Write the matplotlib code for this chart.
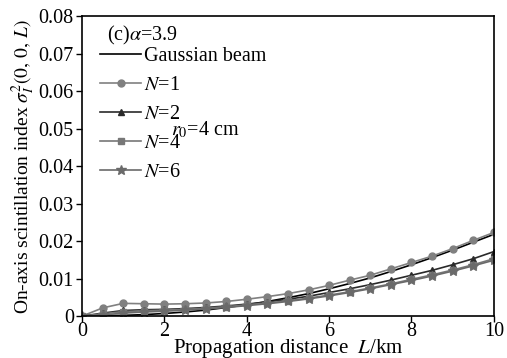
import numpy as np
import matplotlib.pyplot as plt

plt.rcParams['font.family'] = ['Liberation Serif', 'DejaVu Serif']
plt.rcParams['mathtext.fontset'] = 'stix'

L = np.arange(0, 10.01, 0.5)

gauss = [0, 0.0001, 0.0002, 0.0004, 0.0007, 0.0011, 0.0016, 0.0023, 0.0030, 0.0039, 0.0049,
         0.0060, 0.0073, 0.0087, 0.0102, 0.0119, 0.0137, 0.0156, 0.0176, 0.0197, 0.0218]
n1 = [0, 0.0022, 0.0034, 0.0033, 0.0032, 0.0033, 0.0035, 0.0039, 0.0045, 0.0052, 0.0060,
      0.0070, 0.0082, 0.0096, 0.0109, 0.0126, 0.0143, 0.0160, 0.0180, 0.0202, 0.0223]
n2 = [0, 0.0008, 0.0015, 0.0017, 0.0018, 0.0020, 0.0023, 0.0027, 0.0032, 0.0038, 0.0045,
      0.0053, 0.0063, 0.0073, 0.0084, 0.0096, 0.0109, 0.0122, 0.0137, 0.0153, 0.0172]
n4 = [0, 0.0006, 0.0012, 0.0014, 0.0016, 0.0018, 0.0021, 0.0025, 0.0030, 0.0035, 0.0041,
      0.0048, 0.0056, 0.0065, 0.0075, 0.0086, 0.0098, 0.0110, 0.0123, 0.0137, 0.0153]
n6 = [0, 0.0003, 0.0008, 0.0011, 0.0013, 0.0016, 0.0019, 0.0023, 0.0028, 0.0033, 0.0039,
      0.0046, 0.0054, 0.0063, 0.0073, 0.0084, 0.0095, 0.0107, 0.0120, 0.0134, 0.0149]

fig = plt.figure(figsize=(5.07, 3.58), dpi=100)
ax = fig.add_axes([0.162, 0.117, 0.812, 0.838])

ax.plot(L, gauss, color='k', lw=1.2, label='Gaussian beam')
ax.plot(L, n1, color='#808080', lw=1.2, marker='o', ms=5, label='$N$=1')
ax.plot(L, n2, color='#2a2a2a', lw=1.2, marker='^', ms=5, label='$N$=2')
ax.plot(L, n4, color='#777777', lw=1.2, marker='s', ms=4.5, label='$N$=4')
ax.plot(L, n6, color='#6a6a6a', lw=1.2, marker='*', ms=7, label='$N$=6')

ax.set_xlim(0, 10)
ax.set_ylim(0, 0.08)
ax.set_xticks([0, 2, 4, 6, 8, 10])
ax.set_yticks([0, 0.01, 0.02, 0.03, 0.04, 0.05, 0.06, 0.07, 0.08])
ax.set_yticklabels(['0', '0.01', '0.02', '0.03', '0.04', '0.05', '0.06', '0.07', '0.08'])
ax.tick_params(labelsize=14.5, direction='out', length=4, width=1)
ax.tick_params(axis='x', pad=0)
ax.tick_params(axis='y', pad=2)
for s in ax.spines.values():
    s.set_linewidth(1.2)

ax.set_xlabel('Propagation distance  $L$/km', fontsize=15, labelpad=-3)
ax.set_ylabel(r'On-axis scintillation index $\sigma_I^2(0,\,0,\,L)$', fontsize=14, labelpad=1)

ax.text(0.6, 0.0735, r'(c)$\alpha$=3.9', fontsize=14.5)
ax.legend(loc='upper left', bbox_to_anchor=(0.025, 0.925), frameon=False, fontsize=14.5,
          handlelength=2.0, handletextpad=0.15, labelspacing=0.5, borderaxespad=0.0)
ax.text(2.15, 0.0497, '$r_0$=4 cm', fontsize=14.5, va='center')

plt.savefig('out.png', dpi=100)
